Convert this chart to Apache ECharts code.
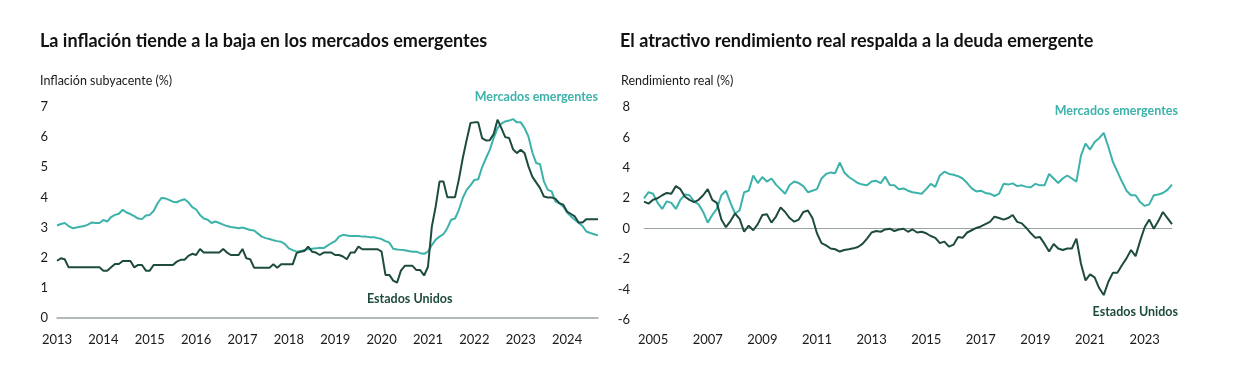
<!DOCTYPE html>
<html><head><meta charset="utf-8">
<script src="https://cdn.jsdelivr.net/npm/echarts@6/dist/echarts.min.js"></script>
<style>html,body{margin:0;padding:0;background:#fff}#c{width:1235px;height:385px}</style>
</head><body><div id="c"></div>
<script>
// ---------- Left chart: core inflation (%) monthly Jan 2013 - Sep 2024 ----------
const leftStartYear = 2013, leftMonths = 141;
const leftYTicks = [0,1,2,3,4,5,6,7];
const emInflation = [
 3.07,3.12,3.15,3.05,2.98,3.00,3.03,3.05,3.10,3.17,3.15,3.15,
 3.25,3.20,3.35,3.42,3.46,3.59,3.50,3.45,3.38,3.30,3.28,3.40,
 3.42,3.55,3.80,3.98,3.97,3.92,3.86,3.84,3.90,3.94,3.84,3.68,
 3.60,3.42,3.30,3.26,3.15,3.20,3.15,3.10,3.05,3.02,3.00,2.98,
 3.00,2.96,2.92,2.90,2.80,2.70,2.65,2.62,2.58,2.55,2.53,2.45,
 2.31,2.25,2.20,2.22,2.26,2.28,2.30,2.31,2.33,2.32,2.40,2.48,
 2.55,2.70,2.76,2.74,2.72,2.72,2.72,2.70,2.70,2.68,2.68,2.65,
 2.62,2.55,2.50,2.30,2.27,2.26,2.25,2.22,2.20,2.20,2.15,2.13,
 2.20,2.42,2.60,2.70,2.78,2.98,3.26,3.30,3.59,3.98,4.25,4.40,
 4.58,4.60,5.00,5.30,5.58,5.97,6.30,6.45,6.52,6.55,6.60,6.49,
 6.49,6.30,6.02,5.50,5.14,5.10,4.53,4.25,4.20,3.86,3.80,3.70,
 3.50,3.37,3.26,3.15,3.05,2.87,2.82,2.78,2.74
];
const usInflation = [
 1.90,1.98,1.95,1.68,1.68,1.68,1.68,1.68,1.68,1.68,1.68,1.68,
 1.57,1.57,1.68,1.79,1.79,1.89,1.89,1.89,1.68,1.76,1.76,1.57,
 1.57,1.76,1.76,1.76,1.76,1.76,1.76,1.87,1.93,1.93,2.06,2.13,
 2.09,2.29,2.17,2.17,2.17,2.17,2.17,2.29,2.17,2.09,2.09,2.09,
 2.29,1.98,1.95,1.67,1.67,1.67,1.67,1.67,1.78,1.67,1.78,1.78,
 1.78,1.78,2.15,2.20,2.22,2.37,2.20,2.17,2.09,2.17,2.17,2.17,
 2.09,2.09,2.04,1.95,2.17,2.17,2.37,2.28,2.28,2.28,2.28,2.28,
 2.20,1.43,1.43,1.24,1.17,1.57,1.73,1.73,1.73,1.59,1.59,1.41,
 1.70,3.03,3.70,4.53,4.53,4.01,4.01,4.01,4.60,5.30,5.90,6.47,
 6.49,6.49,5.97,5.89,5.90,6.10,6.58,6.30,6.00,5.97,5.60,5.47,
 5.58,5.47,5.03,4.69,4.50,4.31,4.03,4.00,4.00,3.95,3.81,3.76,
 3.53,3.45,3.37,3.17,3.17,3.28,3.28,3.28,3.28
];

// ---------- Right chart: real yield (%) every 2 months, Sep 2004 - Jan 2024 ----------
const rightStart = [2004, 9], rightStepMonths = 2, rightPoints = 117;
const rightYTicks = [-6,-4,-2,0,2,4,6,8];
const emRealYield = [
 2.0,2.4,
 2.3,1.7,1.3,1.8,1.7,1.3,
 1.9,2.25,2.2,1.8,1.6,1.1,
 0.4,0.9,1.3,2.2,2.5,1.7,
 1.0,1.2,2.4,2.5,3.5,3.0,
 3.4,3.1,3.3,2.9,2.6,2.3,
 2.87,3.1,3.0,2.8,2.4,2.5,
 2.6,3.3,3.6,3.7,3.65,4.35,
 3.7,3.4,3.2,3.0,2.9,2.85,
 3.1,3.15,3.0,3.42,2.87,2.85,
 2.6,2.65,2.5,2.4,2.35,2.3,
 2.6,2.95,2.75,3.5,3.75,3.6,
 3.55,3.45,3.3,3.0,2.65,2.45,
 2.5,2.35,2.3,2.15,2.3,2.95,
 2.9,2.98,2.8,2.85,2.75,2.72,
 2.95,2.85,2.85,3.6,3.3,3.0,
 3.3,3.5,3.3,3.1,4.8,5.6,
 5.2,5.7,5.95,6.3,5.4,4.4,
 3.75,3.1,2.5,2.2,2.2,1.75,
 1.5,1.6,2.2,2.25,2.35,2.55,
 2.9
];
const usRealYield = [
 1.78,1.65,
 1.9,2.0,2.2,2.35,2.3,2.8,
 2.6,2.1,1.9,1.75,1.9,2.2,
 2.6,1.9,1.7,0.6,0.1,0.5,
 1.0,0.65,-0.2,0.2,-0.1,0.3,
 0.9,0.95,0.4,0.8,1.4,1.1,
 0.7,0.46,0.6,1.1,1.2,0.7,
 -0.3,-0.95,-1.1,-1.3,-1.35,-1.5,
 -1.4,-1.35,-1.29,-1.2,-1.0,-0.65,
 -0.25,-0.15,-0.2,-0.05,0.0,-0.15,
 -0.05,0.0,-0.2,-0.05,-0.25,-0.2,
 -0.3,-0.48,-0.6,-0.95,-0.85,-1.18,
 -1.05,-0.55,-0.6,-0.25,-0.1,0.05,
 0.15,0.3,0.45,0.79,0.7,0.6,
 0.7,0.9,0.45,0.35,0.05,-0.3,
 -0.6,-0.55,-1.0,-1.5,-1.0,-1.3,
 -1.4,-1.3,-1.3,-0.65,-2.3,-3.4,
 -3.0,-3.2,-3.9,-4.36,-3.5,-2.9,
 -2.9,-2.4,-1.95,-1.4,-1.8,-0.8,
 0.1,0.6,0.0,0.5,1.1,0.7,
 0.3
];

const titles = ['La inflación tiende a la baja en los mercados emergentes','El atractivo rendimiento real respalda a la deuda emergente'];
const subtitles = ['Inflación subyacente (%)','Rendimiento real (%)'];
const seriesNames = ['Mercados emergentes','Estados Unidos'];

// categories
function monthList(y, m, n, step){
  const out=[]; for(let i=0;i<n;i++){ out.push(y+'-'+String(m).padStart(2,'0')); m+=step; while(m>12){m-=12;y++;} } return out;
}
const leftCats = monthList(leftStartYear,1,leftMonths,1);
const rightCats = monthList(rightStart[0],rightStart[1],rightPoints,rightStepMonths);

const TEAL='#3cb2aa', DARK='#1d4b3e', TXT='#1a1a1a', FONT='Lato, "Open Sans", sans-serif';
const chart = echarts.init(document.getElementById('c'), null, {renderer:'canvas'});
const axLabel = {color:TXT, fontSize:13, fontFamily:FONT};
chart.setOption({
  animation:false,
  textStyle:{fontFamily:FONT},
  title:[
    {text:titles[0], left:35, top:27, textStyle:{fontSize:18, fontWeight:'bold', color:'#111', fontFamily:FONT}},
    {text:titles[1], left:615, top:27, textStyle:{fontSize:18, fontWeight:'bold', color:'#111', fontFamily:FONT}},
    {text:subtitles[0], left:35, top:69, textStyle:{fontSize:12.5, fontWeight:'normal', color:TXT, fontFamily:FONT}},
    {text:subtitles[1], left:616, top:69, textStyle:{fontSize:12.5, fontWeight:'normal', color:TXT, fontFamily:FONT}}
  ],
  grid:[
    {left:57, top:107, width:541, height:211},
    {left:644, top:107, width:528, height:213}
  ],
  xAxis:[
    {type:'category', gridIndex:0, data:leftCats, boundaryGap:false,
     axisLine:{show:true, lineStyle:{color:'#9aa4a7', width:1.5}}, axisTick:{show:false},
     axisLabel:Object.assign({}, axLabel, {margin:15, interval:(i,v)=>v.endsWith('-01'), formatter:v=>v.slice(0,4)})},
    {type:'category', gridIndex:1, data:rightCats, boundaryGap:false,
     axisLine:{show:false, onZero:false}, axisTick:{show:false},
     axisLabel:Object.assign({}, axLabel, {margin:13, interval:(i,v)=>v.endsWith('-01') && (+v.slice(0,4))%2===1, formatter:v=>v.slice(0,4)})}
  ],
  yAxis:[
    {type:'value', gridIndex:0, min:leftYTicks[0], max:leftYTicks[leftYTicks.length-1], interval:1,
     splitLine:{show:false}, axisLine:{show:false}, axisTick:{show:false}, axisLabel:Object.assign({}, axLabel,{margin:9})},
    {type:'value', gridIndex:1, min:rightYTicks[0], max:rightYTicks[rightYTicks.length-1], interval:2,
     splitLine:{show:false}, axisLine:{show:false}, axisTick:{show:false}, axisLabel:Object.assign({}, axLabel,{margin:14})}
  ],
  series:[
    {name:seriesNames[0], type:'line', xAxisIndex:0, yAxisIndex:0, data:emInflation, showSymbol:false, lineStyle:{color:TEAL, width:2}, itemStyle:{color:TEAL}, z:3},
    {name:seriesNames[1], type:'line', xAxisIndex:0, yAxisIndex:0, data:usInflation, showSymbol:false, lineStyle:{color:DARK, width:2}, itemStyle:{color:DARK}, z:4},
    {name:seriesNames[0], type:'line', xAxisIndex:1, yAxisIndex:1, data:emRealYield, showSymbol:false, lineStyle:{color:TEAL, width:2}, itemStyle:{color:TEAL}, z:3,
     markLine:{silent:true, symbol:'none', label:{show:false}, lineStyle:{color:'#9aa4a7', width:1.2, type:'solid'}, data:[{yAxis:0}], z:1}},
    {name:seriesNames[1], type:'line', xAxisIndex:1, yAxisIndex:1, data:usRealYield, showSymbol:false, lineStyle:{color:DARK, width:2}, itemStyle:{color:DARK}, z:4}
  ],
  graphic:[
    {type:'text', right:1235-598, top:90, style:{text:seriesNames[0], fill:TEAL, font:'bold 12.5px '+FONT, textAlign:'right'}},
    {type:'text', left:367, top:292, style:{text:seriesNames[1], fill:DARK, font:'bold 12.5px '+FONT}},
    {type:'text', right:1235-1178, top:104, style:{text:seriesNames[0], fill:TEAL, font:'bold 12.5px '+FONT}},
    {type:'text', right:1235-1178, top:305, style:{text:seriesNames[1], fill:DARK, font:'bold 12.5px '+FONT}}
  ]
});
</script></body></html>
